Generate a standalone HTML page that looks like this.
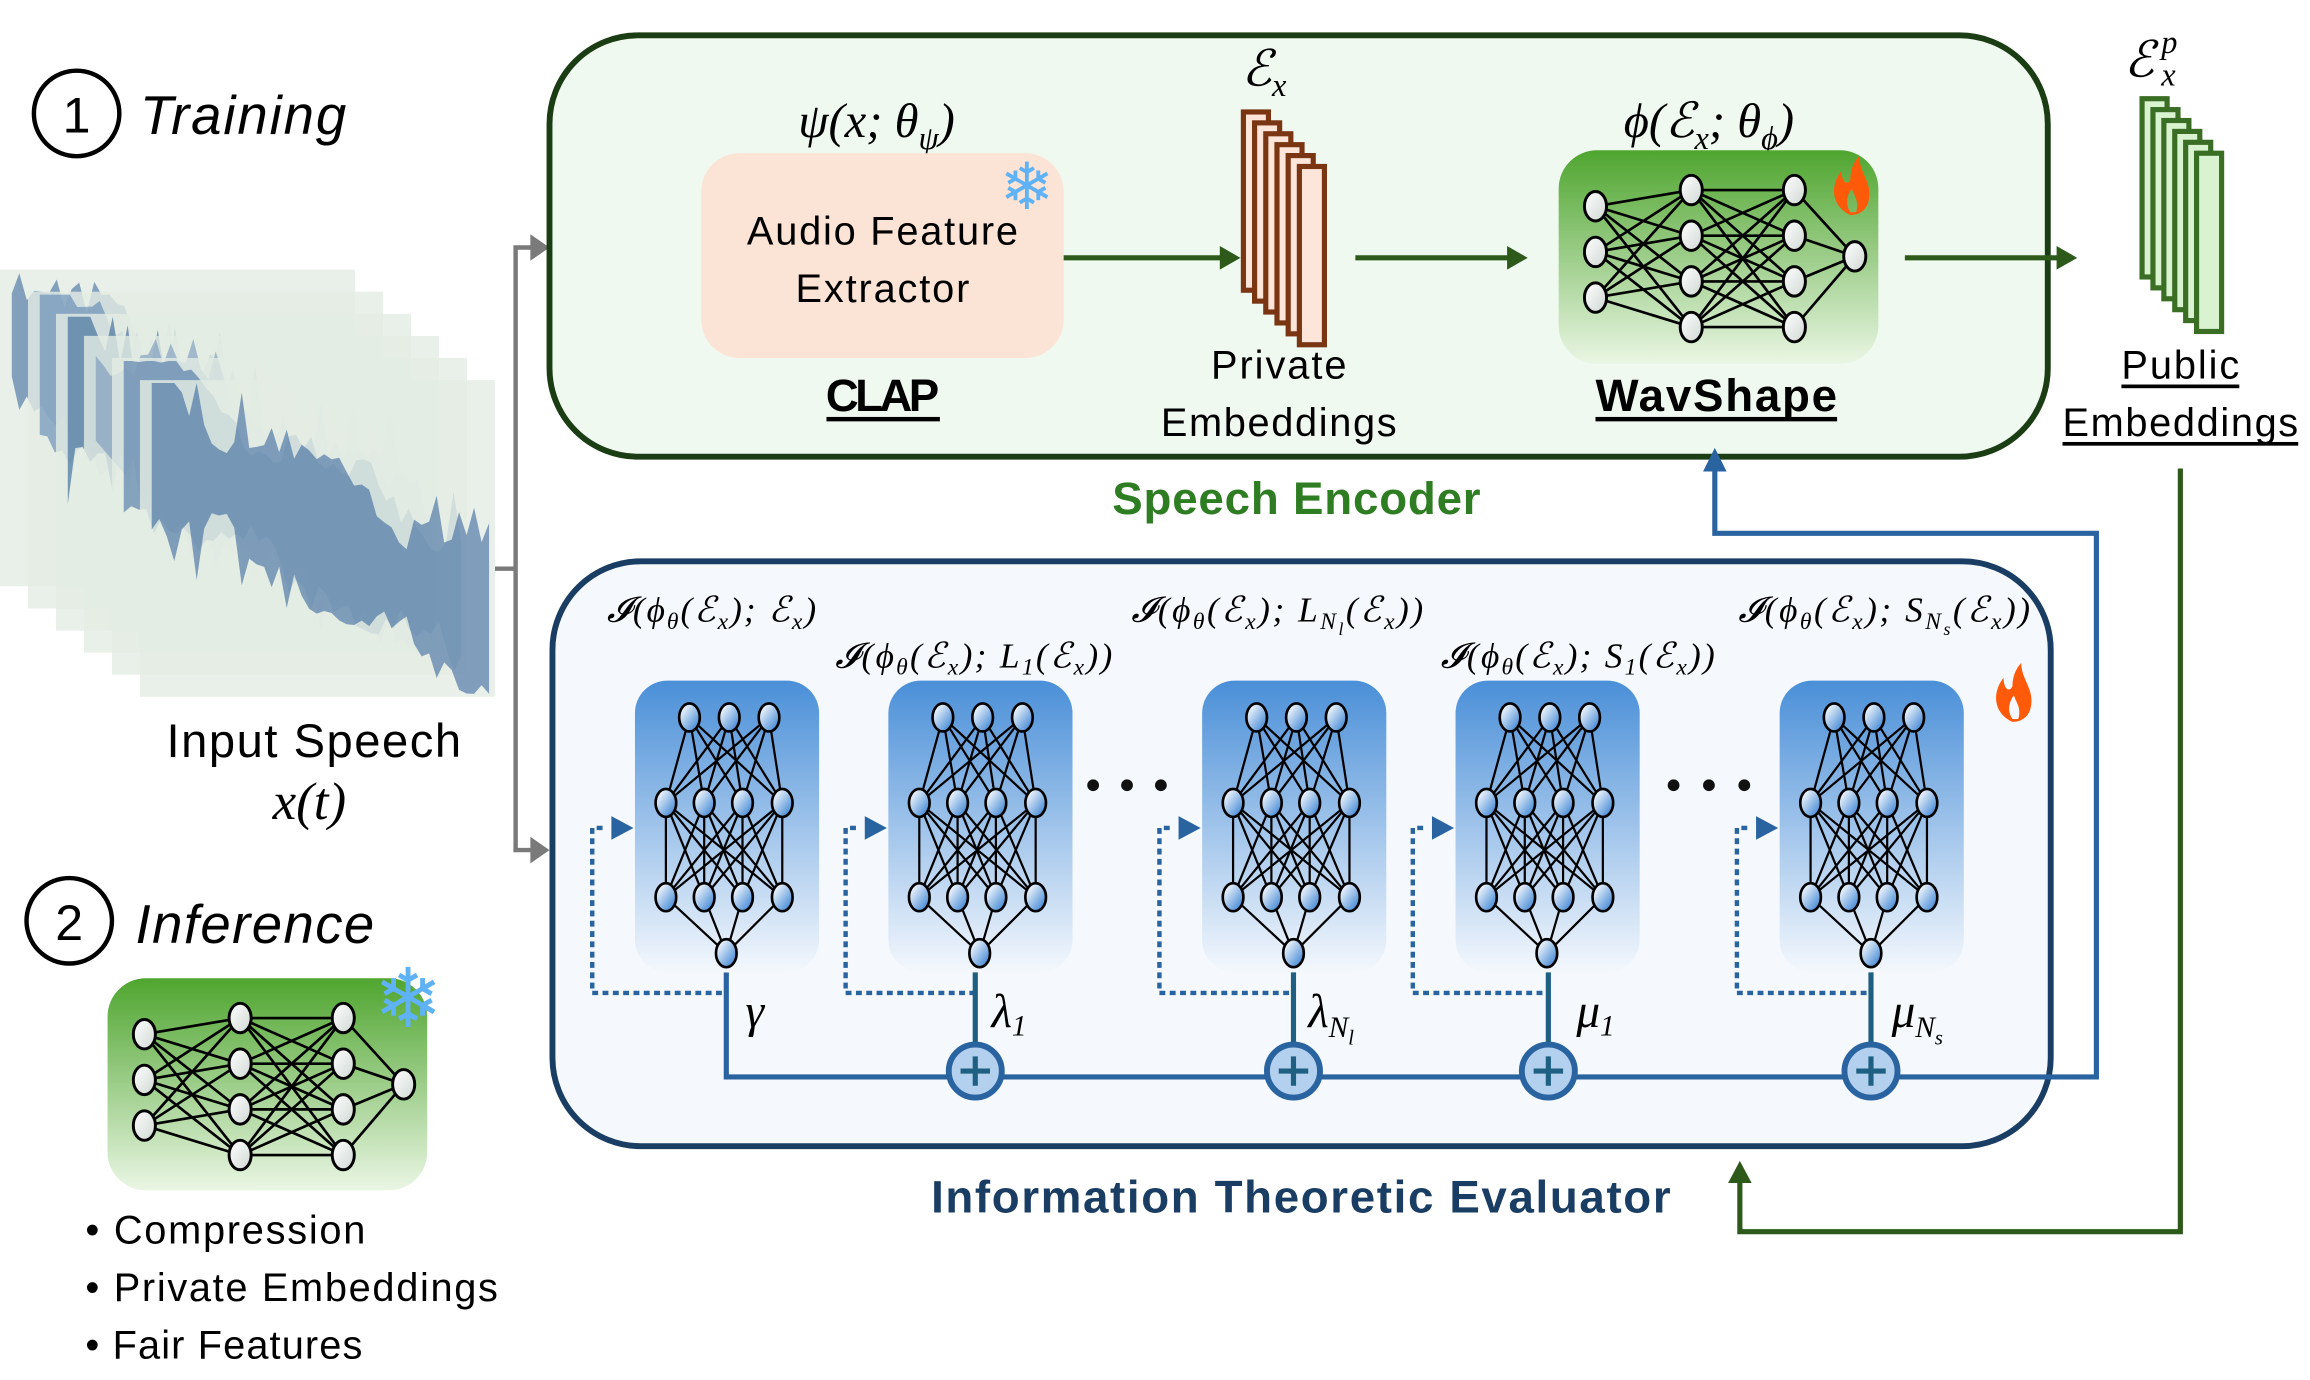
<!DOCTYPE html>
<html><head><meta charset="utf-8"><style>
html,body{margin:0;padding:0;background:#fff;width:2310px;height:1380px;overflow:hidden}
svg{display:block}
.s{font-family:"Liberation Sans",sans-serif}
.m{font-family:"Liberation Serif",serif;font-style:italic}
</style></head><body>
<svg id="sv" width="2310" height="1380" viewBox="0 0 1568 936.7" preserveAspectRatio="none" xmlns="http://www.w3.org/2000/svg">
<defs>
<linearGradient id="gG" x1="0" y1="0" x2="0" y2="1"><stop offset="0" stop-color="#4fa52f"/><stop offset="1" stop-color="#eaf6e4"/></linearGradient>
<linearGradient id="gB" x1="0" y1="0" x2="0" y2="1"><stop offset="0" stop-color="#4a8fd8"/><stop offset="1" stop-color="#f4f8fd"/></linearGradient>
<linearGradient id="nB" x1="0" y1="0" x2="1" y2="1"><stop offset="0.1" stop-color="#ffffff"/><stop offset="0.9" stop-color="#3f86d4"/></linearGradient>
<linearGradient id="nW" x1="0" y1="0" x2="1" y2="1"><stop offset="0" stop-color="#ffffff"/><stop offset="1" stop-color="#cfd8d3"/></linearGradient>
</defs>
<rect width="1568" height="937" fill="#fff"/>
<g id="wave"></g>

<circle cx="52" cy="77" r="29" fill="none" stroke="#000" stroke-width="3"/>
<text x="52" y="90" class="s" font-size="34" text-anchor="middle">1</text>
<text x="95" y="91" class="s" font-size="37" font-style="italic" textLength="140">Training</text>

<text x="213" y="514" class="s" font-size="32" text-anchor="middle" textLength="200">Input Speech</text>
<text x="210" y="556" class="m" font-size="36" text-anchor="middle">x(t)</text>

<path d="M336,386 H350 V168 H362 M350,386 V577 H362" fill="none" stroke="#7a7a7a" stroke-width="3"/>
<path d="M360,159 L373,168 L360,177Z M360,568 L373,577 L360,586Z" fill="#7a7a7a"/>

<rect x="373" y="24" width="1017" height="286" rx="60" fill="#f0f9f0" stroke="#1b3d13" stroke-width="4"/>
<text x="595" y="93" class="m" font-size="33" text-anchor="middle">ψ(x; θ<tspan font-size="22" dy="8">ψ</tspan><tspan dy="-8">)</tspan></text>
<rect x="476" y="104" width="246" height="139" rx="26" fill="#fbe3d6"/>
<text x="599" y="166" class="s" font-size="27" text-anchor="middle" textLength="184">Audio Feature</text>
<text x="599" y="205" class="s" font-size="27" text-anchor="middle" textLength="118">Extractor</text>
<text x="697" y="142" font-size="44" fill="#5fb2f5" text-anchor="middle" class="s">❄</text>
<text x="599" y="279" class="s" font-size="31" font-weight="bold" text-anchor="middle" textLength="77">CLAP</text>
<rect x="561" y="283" width="77" height="3" fill="#000"/>

<g stroke="#2d5a1b" stroke-width="3.5" fill="#2d5a1b">
<line x1="722" y1="175" x2="830" y2="175"/><path d="M828,167 L842,175 L828,183Z" stroke="none"/>
<line x1="920" y1="175" x2="1025" y2="175"/><path d="M1023,167 L1037,175 L1023,183Z" stroke="none"/>
<line x1="1293" y1="175" x2="1398" y2="175"/><path d="M1396,167 L1410,175 L1396,183Z" stroke="none"/>
</g>
<g id="priv"></g>
<text x="858" y="58" class="m" font-size="34" text-anchor="middle">ℰ<tspan font-size="22" dy="7">x</tspan></text>
<text x="868" y="257" class="s" font-size="27" text-anchor="middle" textLength="92">Private</text>
<text x="868" y="296" class="s" font-size="27" text-anchor="middle" textLength="160">Embeddings</text>

<text x="1160" y="93" class="m" font-size="33" text-anchor="middle">ϕ(ℰ<tspan font-size="22" dy="8">x</tspan><tspan dy="-8">; θ</tspan><tspan font-size="22" dy="8">ϕ</tspan><tspan dy="-8">)</tspan></text>
<rect x="1058" y="102" width="217" height="145" rx="26" fill="url(#gG)"/>
<g id="wnn"></g>
<text x="1165" y="279" class="s" font-size="31" font-weight="bold" text-anchor="middle" textLength="164">WavShape</text>
<rect x="1083" y="283" width="164" height="3" fill="#000"/>
<g id="pub"></g>
<text x="1452" y="52" class="m" font-size="34" text-anchor="middle">ℰ</text>
<text x="1467" y="58" class="m" font-size="22">x</text>
<text x="1467" y="36" class="m" font-size="22">p</text>
<text x="1480" y="257" class="s" font-size="27" text-anchor="middle" textLength="80">Public</text>
<rect x="1440" y="261" width="80" height="2.5" fill="#000"/>
<text x="1480" y="296" class="s" font-size="27" text-anchor="middle" textLength="160">Embeddings</text>
<rect x="1400" y="300" width="160" height="2.5" fill="#000"/>
<text x="880" y="349" class="s" font-size="31" font-weight="bold" fill="#2e7d22" text-anchor="middle" textLength="250">Speech Encoder</text>

<path d="M1480,318 V836 H1181 V800" fill="none" stroke="#2d5a1b" stroke-width="3.5"/>
<path d="M1173,803 L1181,788 L1189,803Z" fill="#2d5a1b"/>

<rect x="375" y="381" width="1017" height="397" rx="60" fill="#f5f9fd" stroke="#1a3d63" stroke-width="4"/>
<path d="M493,660 V731 H1423 V362 H1164 V318" fill="none" stroke="#2a64a0" stroke-width="3.5"/>
<path d="M1156,320 L1164,304 L1172,320Z" fill="#2a64a0"/>
<g id="evl"></g>
<g class="m" font-size="24">
<text x="412" y="422" textLength="142">𝓘(ϕ<tspan font-size="16" dy="5">θ</tspan><tspan dy="-5">(ℰ</tspan><tspan font-size="16" dy="5">x</tspan><tspan dy="-5">); ℰ</tspan><tspan font-size="16" dy="5">x</tspan><tspan dy="-5">)</tspan></text>
<text x="567" y="453" textLength="188">𝓘(ϕ<tspan font-size="16" dy="5">θ</tspan><tspan dy="-5">(ℰ</tspan><tspan font-size="16" dy="5">x</tspan><tspan dy="-5">); L</tspan><tspan font-size="16" dy="5">1</tspan><tspan dy="-5">(ℰ</tspan><tspan font-size="16" dy="5">x</tspan><tspan dy="-5">))</tspan></text>
<text x="768" y="422" textLength="198">𝓘(ϕ<tspan font-size="16" dy="5">θ</tspan><tspan dy="-5">(ℰ</tspan><tspan font-size="16" dy="5">x</tspan><tspan dy="-5">); L</tspan><tspan font-size="16" dy="5">N</tspan><tspan font-size="12" dy="4">l</tspan><tspan dy="-9">(ℰ</tspan><tspan font-size="16" dy="5">x</tspan><tspan dy="-5">))</tspan></text>
<text x="978" y="453" textLength="186">𝓘(ϕ<tspan font-size="16" dy="5">θ</tspan><tspan dy="-5">(ℰ</tspan><tspan font-size="16" dy="5">x</tspan><tspan dy="-5">); S</tspan><tspan font-size="16" dy="5">1</tspan><tspan dy="-5">(ℰ</tspan><tspan font-size="16" dy="5">x</tspan><tspan dy="-5">))</tspan></text>
<text x="1180" y="422" textLength="198">𝓘(ϕ<tspan font-size="16" dy="5">θ</tspan><tspan dy="-5">(ℰ</tspan><tspan font-size="16" dy="5">x</tspan><tspan dy="-5">); S</tspan><tspan font-size="16" dy="5">N</tspan><tspan font-size="12" dy="4">s</tspan><tspan dy="-9">(ℰ</tspan><tspan font-size="16" dy="5">x</tspan><tspan dy="-5">))</tspan></text>
</g>
<g class="m" font-size="32">
<text x="506" y="697">γ</text>
<text x="673" y="697">λ<tspan font-size="20" dy="6">1</tspan></text>
<text x="888" y="697">λ<tspan font-size="20" dy="7">N</tspan><tspan font-size="14" dy="5">l</tspan></text>
<text x="1070" y="697">μ<tspan font-size="20" dy="6">1</tspan></text>
<text x="1284" y="697">μ<tspan font-size="20" dy="7">N</tspan><tspan font-size="14" dy="5">s</tspan></text>
</g>
<g fill="#111">
<circle cx="742" cy="533" r="4"/><circle cx="765" cy="533" r="4"/><circle cx="788" cy="533" r="4"/>
<circle cx="1136" cy="533" r="4"/><circle cx="1160" cy="533" r="4"/><circle cx="1184" cy="533" r="4"/>
</g>
<text x="883" y="823" class="s" font-size="31" font-weight="bold" fill="#1a3d63" text-anchor="middle" textLength="502">Information Theoretic Evaluator</text>

<path d="M1256,146 C1243,140 1242,126 1250,116 C1250,124 1254,126 1256,122 C1256,116 1258,110 1262,106 C1262,118 1272,124 1268,138 C1266,143 1262,146 1256,146Z M1256,144 C1252,138 1254,132 1257,128 C1259,134 1262,136 1260,144Z" fill="#ff5a0a" fill-rule="evenodd"/>
<path d="M1366,490 C1353,484 1352,470 1360,460 C1360,468 1364,470 1366,466 C1366,460 1368,454 1372,450 C1372,462 1382,468 1378,482 C1376,487 1372,490 1366,490Z M1366,488 C1362,482 1364,476 1367,472 C1369,478 1372,480 1370,488Z" fill="#ff5a0a" fill-rule="evenodd"/>

<circle cx="47" cy="625" r="29" fill="none" stroke="#000" stroke-width="3"/>
<text x="47" y="638" class="s" font-size="34" text-anchor="middle">2</text>
<text x="92" y="640" class="s" font-size="37" font-style="italic" textLength="162">Inference</text>
<rect x="73" y="664" width="217" height="144" rx="26" fill="url(#gG)"/>
<g id="inn"></g>
<text x="277" y="697" font-size="56" fill="#5fb2f5" text-anchor="middle" class="s">❄</text>
<g class="s" font-size="27">
<text x="58" y="844" textLength="190">• Compression</text>
<text x="58" y="883" textLength="280">• Private Embeddings</text>
<text x="58" y="922" textLength="188">• Fair Features</text>
</g>
</svg>
<script>
const NS="http://www.w3.org/2000/svg";
function el(p,t,a){const e=document.createElementNS(NS,t);for(const k in a)e.setAttribute(k,a[k]);p.appendChild(e);return e;}
(function(){const g=document.getElementById('wave');let seed=11;const r=()=>{seed=(seed*9301+49297)%233280;return seed/233280;};
const cols=['#3d6b9e','#5a84b0','#2f5f95','#7596bb','#4671a3','#3b679c'];
for(let i=0;i<6;i++){const x0=i*19,y0=183+i*15,w=241,h=215;
el(g,'rect',{x:x0,y:y0,width:w,height:h,fill:'#e3ece3',opacity:0.8});
let top=[],bot=[];const N=45;for(let k=0;k<=N;k++){const t=k/N;const x=x0+8+t*(w-12);const c=y0+45+t*120;
const env=30+40*Math.abs(Math.sin(t*6+i))+ (r()<0.15?30:0);const a=env*(0.6+0.4*r());
top.push([x,Math.max(y0+2,c-a)]);bot.push([x,Math.min(y0+h-2,c+a*0.8+r()*15)]);}
let d='M'+top.map(p=>p[0].toFixed(1)+','+p[1].toFixed(1)).join(' L')+' L'+bot.reverse().map(p=>p[0].toFixed(1)+','+p[1].toFixed(1)).join(' L')+'Z';
el(g,'path',{d:d,fill:cols[i],opacity:0.6});}
})();
function stack(id,x,y,dx,dy,w,h,st,fi){const g=document.getElementById(id);for(let i=0;i<6;i++)el(g,'rect',{x:x+i*dx,y:y+i*dy,width:w,height:h,fill:fi,stroke:st,'stroke-width':3.5});}
stack('priv',844,76,7.6,7.4,17,121,'#7a3512','#fde5da');
stack('pub',1454,67,7.4,7.4,17,121,'#3a6e24','#d9f2d0');
function gnet(id,ox,oy){const g=document.getElementById(id);
const L=[[[1083,140],[1083,171],[1083,202]],[[1148,129],[1148,160],[1148,191],[1148,222]],[[1218,129],[1218,160],[1218,191],[1218,222]],[[1259,174]]];
const P=L.map(l=>l.map(p=>[p[0]+ox,p[1]+oy]));
for(let i=0;i<3;i++)for(const a of P[i])for(const b of P[i+1])el(g,'line',{x1:a[0],y1:a[1],x2:b[0],y2:b[1],stroke:'#000','stroke-width':1.8});
for(const l of P)for(const p of l)el(g,'ellipse',{cx:p[0],cy:p[1],rx:7.5,ry:10,fill:'url(#nW)',stroke:'#000','stroke-width':2});}
gnet('wnn',0,0);gnet('inn',-985,562);
(function(){const g=document.getElementById('evl');const xs=[431,603,816,988,1208];const plus=[null,662,878,1051,1270];
xs.forEach((x,i)=>{el(g,'rect',{x:x,y:462,width:125,height:198,rx:22,fill:'url(#gB)'});
const L=[[37,64,91].map(v=>[x+v,487]),[21,47,73,100].map(v=>[x+v,545]),[21,47,73,100].map(v=>[x+v,609]),[[x+62,647]]];
for(let k=0;k<3;k++)for(const a of L[k])for(const b of L[k+1])el(g,'line',{x1:a[0],y1:a[1],x2:b[0],y2:b[1],stroke:'#000','stroke-width':1.5});
for(const l of L)for(const p of l)el(g,'ellipse',{cx:p[0],cy:p[1],rx:7,ry:9.5,fill:'url(#nB)',stroke:'#000','stroke-width':1.8});
const cx=x+62;
el(g,'path',{d:`M${cx-3},674 H${x-29} V562 H${x-20}`,fill:'none',stroke:'#2a64a0','stroke-width':3,'stroke-dasharray':'4 3'});
el(g,'path',{d:`M${x-16},554 L${x-1},562 L${x-16},570Z`,fill:'#2a64a0'});
if(plus[i]){el(g,'line',{x1:plus[i],y1:660,x2:plus[i],y2:708,stroke:'#1e5f82','stroke-width':3.5});
el(g,'circle',{cx:plus[i],cy:727,r:18,fill:'#b3d1ef',stroke:'#2a64a0','stroke-width':4});
el(g,'path',{d:`M${plus[i]-10},727 H${plus[i]+10} M${plus[i]},717 V737`,stroke:'#1e5f82','stroke-width':3.5});}
});})();
</script>
</body></html>
